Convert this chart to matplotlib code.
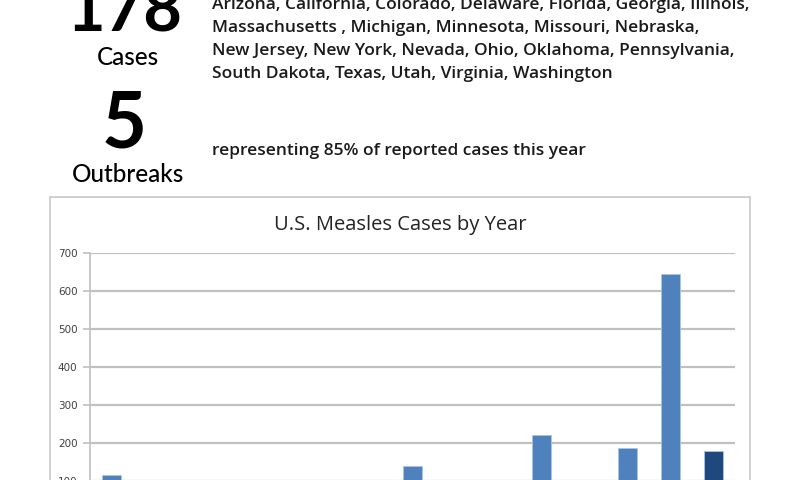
"""U.S. measles infographic: headline numbers plus cases-by-year bar chart."""

import matplotlib

matplotlib.use("agg")
import matplotlib.patches as mpatches
import matplotlib.pyplot as plt
import numpy as np

YEARS = [str(y) for y in range(2001, 2016)]
CASES = [116, 44, 56, 37, 66, 55, 43, 140, 71, 63, 220, 55, 187, 644, 178]
BAR_COLORS = ["#4F81BD"] * 14 + ["#1F497D"]
Y_TICKS = [0, 100, 200, 300, 400, 500, 600, 700]

STATE_LINES = [
    "Arizona, California, Colorado, Delaware, Florida, Georgia, Illinois,",
    "Massachusetts , Michigan, Minnesota, Missouri, Nebraska,",
    "New Jersey, New York, Nevada, Ohio, Oklahoma, Pennsylvania,",
    "South Dakota, Texas, Utah, Virginia, Washington",
]
SHARE_TEXT = "representing 85% of reported cases this year"
TITLE = "U.S. Measles Cases by Year"

W, H = 800, 480


def fx(px):
    return px / W


def fy(py):
    return 1 - py / H


fig = plt.figure(figsize=(8, 4.8), dpi=100)
fig.patch.set_facecolor("white")

# headline numbers
lab = dict(family="Lato", fontweight="medium", fontsize=17.5, ha="center", color="black")
fig.text(fx(125), fy(32), "178", va="baseline", family="Lato",
         fontweight="bold", fontsize=48, ha="center", color="black")
fig.text(fx(128), fy(65), "Cases", va="baseline", **lab)
fig.text(fx(124), fy(148), "5", va="baseline", family="Lato",
         fontweight="bold", fontsize=56, ha="center", color="black")
fig.text(fx(128), fy(182), "Outbreaks", va="baseline", **lab)

txt = dict(family="Open Sans", fontweight="semibold", fontsize=12.5, ha="left",
           va="baseline", color="#1a1a1a")
for i, line in enumerate(STATE_LINES):
    fig.text(fx(212), fy(9 + 23 * i), line, **txt)
fig.text(fx(212), fy(155), SHARE_TEXT, **txt)

# chart frame (extends below the visible area)
frame = mpatches.Rectangle((fx(50), fy(600)), fx(700), fy(197) - fy(600),
                           transform=fig.transFigure, fill=False,
                           edgecolor="#c8c8c8", linewidth=1.2)
fig.patches.append(frame)
fig.text(fx(400), fy(230), TITLE, family="Open Sans", fontsize=14.5,
         ha="center", va="baseline", color="#222222")

ax = fig.add_axes([fx(90), fy(519), fx(645), fy(253) - fy(519)])
x = np.arange(len(YEARS))
ax.bar(x, CASES, width=0.42, color=BAR_COLORS, edgecolor="#a9c4e8",
       linewidth=0.6, zorder=3, label="Cases")
ax.set_xlim(-0.5, len(YEARS) - 0.5)
ax.set_ylim(0, 700)
ax.set_yticks(Y_TICKS)
ax.set_yticklabels([str(t) for t in Y_TICKS], fontsize=7.5, color="#404040")
# year labels sit below the visible crop, as in the reference
ax.set_xticks(x)
ax.set_xticklabels([])
ax.yaxis.grid(True, color="#c0c0c0", linewidth=1.6, zorder=0)
ax.tick_params(axis="y", length=5, width=1.2, color="#c0c0c0", pad=4)
ax.tick_params(axis="x", length=0)
for side in ("top", "right", "bottom"):
    ax.spines[side].set_visible(False)
ax.spines["left"].set_color("#c0c0c0")
ax.spines["left"].set_linewidth(1.2)
ax.set_facecolor("white")

fig.savefig("out.png", dpi=100, facecolor="white")
